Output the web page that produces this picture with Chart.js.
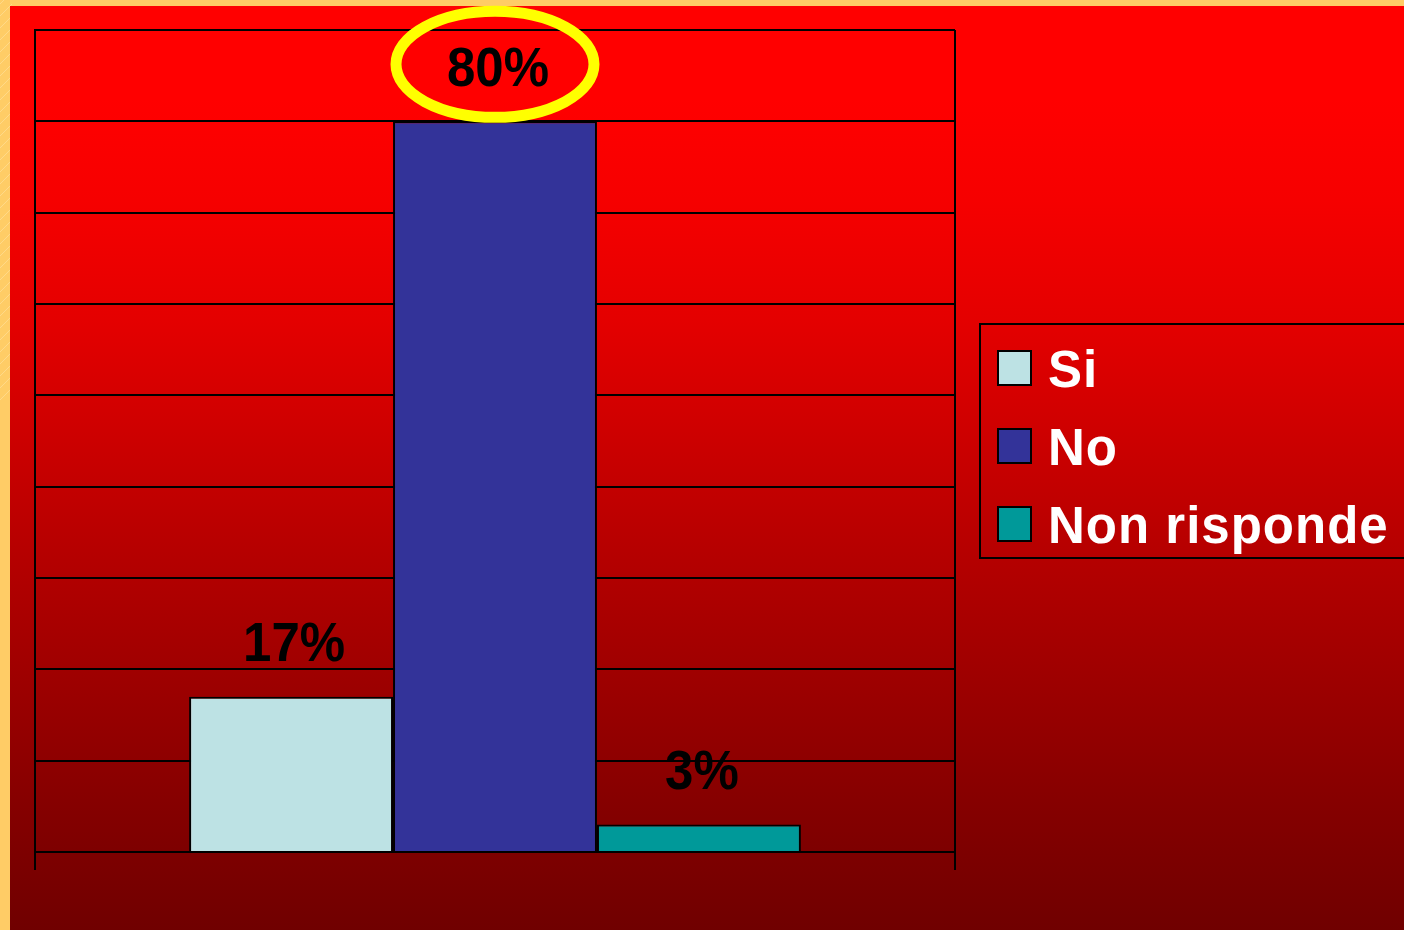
<!DOCTYPE html>
<html>
<head>
<meta charset="utf-8">
<script src="https://cdn.jsdelivr.net/npm/chart.js@4/dist/chart.umd.min.js"></script>
<style>
  html, body { margin: 0; padding: 0; background: #ffcc66; }
  canvas { display: block; }
</style>
</head>
<body>
<canvas id="chart" width="1404" height="930"></canvas>
<script>
// data
const categories = [""];
const seriesNames = ["Si", "No", "Non risponde"];
const seriesValues = [17, 80, 3];
const seriesColors = ["#bde2e4", "#333399", "#009999"];
const yTicks = [0, 10, 20, 30, 40, 50, 60, 70, 80, 90];

//background: gold frame + red gradient
const backgroundPlugin = {
  id: "bg",
  beforeDraw(chart) {
    const ctx = chart.ctx;
    const w = chart.width, h = chart.height;
    ctx.save();
    ctx.fillStyle = "#ffcc66";
    ctx.fillRect(0, 0, w, h);
    // faint texture on the frame
    ctx.strokeStyle = "rgba(255,240,200,0.35)";
    ctx.lineWidth = 1;
    for (let y = -20; y < 400; y += 12) {
      ctx.beginPath();
      ctx.moveTo(0, y + 12);
      ctx.lineTo(12, y);
      ctx.stroke();
    }
    const g = ctx.createLinearGradient(0, 6, 0, h);
    g.addColorStop(0, "#ff0000");
    g.addColorStop(0.10, "#ff0000");
    g.addColorStop(0.21, "#f60000");
    g.addColorStop(0.34, "#e40000");
    g.addColorStop(0.60, "#b40000");
    g.addColorStop(0.75, "#9a0000");
    g.addColorStop(0.86, "#860000");
    g.addColorStop(1, "#700000");
    ctx.fillStyle = g;
    ctx.fillRect(10, 6, w - 10, h - 6);
    ctx.restore();
  }
};

//value labels + yellow ring round the biggest one
const labelPlugin = {
  id: "valueLabels",
  afterDatasetsDraw(chart) {
    const ctx = chart.ctx;
    let maxI = 0;
    seriesValues.forEach((v, i) => { if (v > seriesValues[maxI]) maxI = i; });
    chart.data.datasets.forEach((ds, i) => {
      const bar = chart.getDatasetMeta(i).data[0];
      const cx = bar.x + 3, cy = bar.y - 53;
      ctx.save();
      ctx.translate(cx, cy);
      ctx.scale(1, 1.08);
      ctx.font = "bold 51px 'Liberation Sans', Arial, sans-serif";
      ctx.fillStyle = "#000";
      ctx.textAlign = "center";
      ctx.textBaseline = "middle";
      ctx.fillText(ds.data[0] + "%", 0, 2);
      ctx.restore();
      if (i === maxI) {
        ctx.save();
        ctx.strokeStyle = "#ffff00";
        ctx.lineWidth = 11;
        ctx.beginPath();
        ctx.ellipse(bar.x, bar.y - 57, 99, 53, 0, 0, Math.PI * 2);
        ctx.stroke();
        ctx.restore();
      }
    });
  }
};

//legend box on the right
const legendPlugin = {
  id: "sideLegend",
  afterDraw(chart) {
    const ctx = chart.ctx;
    const area = chart.chartArea;
    const x0 = area.right + 25, y0 = 324;
    ctx.save();
    ctx.strokeStyle = "#000";
    ctx.lineWidth = 2;
    ctx.strokeRect(x0, y0, chart.width - x0 + 10, 234);
    ctx.font = "bold 51px 'Liberation Sans', Arial, sans-serif";
    ctx.letterSpacing = "1px";
    ctx.textBaseline = "alphabetic";
    chart.data.datasets.forEach((ds, i) => {
      const top = y0 + 27 + i * 78;
      ctx.fillStyle = ds.backgroundColor;
      ctx.fillRect(x0 + 18, top, 33, 34);
      ctx.lineWidth = 2;
      ctx.strokeRect(x0 + 18, top, 33, 34);
      ctx.fillStyle = "#fff";
      ctx.fillText(ds.label, x0 + 68, top + 36);
    });
    ctx.restore();
  }
};

const datasets = seriesNames.map((name, i) => ({
  label: name,
  data: [seriesValues[i]],
  backgroundColor: seriesColors[i],
  borderColor: "#000",
  borderWidth: 2,
  categoryPercentage: 0.665,
  barPercentage: 1
}));

new Chart(document.getElementById("chart"), {
  type: "bar",
  data: { labels: categories, datasets: datasets },
  plugins: [backgroundPlugin, labelPlugin, legendPlugin],
  options: {
    responsive: false,
    animation: false,
    layout: { padding: { left: 35, top: 30, right: 449, bottom: 60 } },
    plugins: {
      legend: { display: false },
      tooltip: { enabled: false }
    },
    scales: {
      x: {
        grid: { offset: true, color: "#000", lineWidth: 2, tickLength: 18 },
        border: { display: true, color: "#000", width: 2 },
        ticks: { display: false }
      },
      y: {
        min: yTicks[0],
        max: yTicks[yTicks.length - 1],
        afterBuildTicks(scale) { scale.ticks = yTicks.map(v => ({ value: v })); },
        grid: { color: "#000", lineWidth: 2, drawTicks: false },
        border: { display: true, color: "#000", width: 2 },
        ticks: { display: false }
      }
    }
  }
});
</script>
</body>
</html>
